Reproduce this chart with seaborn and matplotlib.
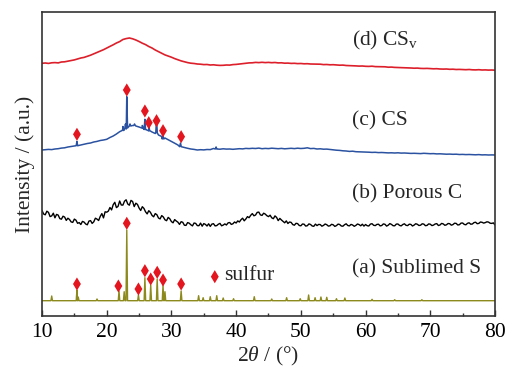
import numpy as np
import pandas as pd
import matplotlib
matplotlib.use("Agg")
import matplotlib.pyplot as plt
import seaborn as sns

# ---------------- data (intensity in arbitrary units) ----------------
two_theta_start, two_theta_stop = 10.0, 80.0
step_coarse, step_fine = 0.5, 0.25

cs_v = [252.7, 253.0, 252.6, 253.2, 253.4, 253.1, 254.0, 254.2, 254.8, 255.5,
        256.1, 257.0, 258.0, 258.6, 259.7, 260.8, 262.2, 263.5, 265.0, 266.3,
        268.0, 269.6, 271.2, 273.0, 274.4, 276.5, 277.4, 278.0, 277.2, 276.0,
        274.5, 272.8, 271.4, 269.5, 268.0, 266.0, 264.4, 262.8, 261.1, 260.0,
        258.8, 257.4, 256.2, 255.1, 254.2, 253.4, 252.8, 252.5, 252.0, 251.8,
        251.4, 251.5, 251.0, 251.2, 250.8, 250.6, 250.7, 251.0, 250.9, 251.4,
        251.6, 252.0, 252.4, 252.7, 253.1, 253.2, 253.6, 253.4, 253.7, 253.4,
        253.6, 253.3, 253.5, 253.1, 253.2, 252.8, 252.9, 252.6, 252.7, 252.4,
        252.5, 252.2, 252.3, 252.0, 251.9, 251.7, 251.8, 251.4, 251.5, 251.2,
        251.3, 251.0, 250.8, 250.9, 250.5, 250.4, 250.2, 250.1, 249.9, 250.0,
        249.7, 249.6, 249.8, 249.4, 249.3, 249.1, 249.2, 248.8, 248.9, 248.6,
        248.5, 248.3, 248.4, 248.1, 248.0, 247.8, 247.9, 247.6, 247.5, 247.6,
        247.4, 247.2, 247.3, 247.0, 246.9, 247.0, 246.7, 246.8, 246.5, 246.6,
        246.4, 246.3, 246.5, 246.2, 246.1, 246.3, 246.0, 246.1, 245.9, 246.0,
        245.8]

cs = [166.0, 166.3, 166.6, 166.4, 167.0, 167.3, 167.9, 168.2, 169.0, 169.5,
      170.0, 170.3, 171.0, 171.8, 172.5, 173.0, 174.0, 174.6, 175.5, 176.0,
      176.7, 178.5, 180.0, 182.0, 184.3, 187.0, 189.0, 190.0, 190.5, 190.0,
      189.0, 187.8, 186.5, 185.0, 184.0, 182.5, 181.0, 179.5, 178.0, 176.3,
      174.5, 172.8, 171.0, 169.8, 168.5, 167.7, 167.0, 166.6, 166.0, 166.3,
      166.1, 166.5, 166.4, 167.5, 167.0, 166.8, 167.2, 166.9, 167.0, 166.7,
      167.0, 167.3, 167.1, 167.6, 167.4, 167.7, 167.5, 167.9, 167.3, 167.6,
      167.4, 167.8, 167.5, 167.3, 167.6, 167.2, 167.5, 167.7, 167.4, 167.8,
      167.5, 167.7, 168.2, 167.4, 167.6, 167.0, 167.2, 166.8, 166.9, 166.5,
      166.0, 165.8, 165.6, 165.2, 165.0, 164.6, 164.8, 164.3, 164.2, 164.0,
      163.9, 163.8, 163.6, 163.7, 163.4, 163.5, 163.3, 163.1, 163.2, 163.0,
      163.2, 162.9, 163.0, 162.8, 162.6, 162.7, 162.5, 162.4, 162.7, 162.5,
      162.3, 162.4, 162.1, 162.2, 162.0, 161.8, 161.9, 161.7, 161.8, 161.5,
      161.6, 161.4, 161.5, 161.3, 161.2, 161.4, 161.1, 161.2, 161.0, 161.1,
      161.0]

# sharp sulfur reflections riding on the CS hump: position, local base, top
cs_peak_pos = [15.4, 22.5, 22.9, 23.1, 23.6, 24.3, 25.5, 25.9, 26.5, 27.7, 28.7, 31.4, 36.9]
cs_peak_base = [170.3, 185.5, 187.0, 188.0, 190.0, 190.5, 188.0, 186.5, 185.5, 183.0, 177.0, 169.3, 167.0]
cs_peak_top = [174.5, 189.5, 192.0, 219.3, 192.0, 192.0, 190.5, 196.7, 192.0, 196.7, 180.0, 173.0, 169.0]

# porous carbon, sampled every 0.25 deg
porous_c = [105.5, 102.0, 101.2, 104.8, 103.6, 99.4, 100.1, 102.8,
            98.2, 101.6, 100.9, 97.4, 96.8, 99.8, 98.9, 95.6,
            97.8, 96.5, 94.1, 93.6, 96.9, 95.8, 92.7, 93.4,
            91.5, 94.6, 93.9, 92.0, 91.2, 94.9, 95.4, 92.6,
            94.2, 97.8, 96.9, 95.5, 99.6, 102.4, 98.1, 104.2,
            103.8, 104.9, 108.5, 106.1, 111.3, 113.7, 108.4, 109.6,
            115.0, 111.0, 110.9, 114.8, 116.2, 112.0, 110.8, 115.6,
            114.5, 109.4, 112.8, 111.6, 108.0, 105.5, 109.3, 107.6,
            104.2, 102.1, 105.3, 103.7, 100.6, 99.2, 102.4, 101.3,
            98.0, 97.1, 100.4, 99.0, 96.2, 95.3, 98.6, 97.2,
            94.4, 93.2, 96.4, 95.0, 93.8, 91.6, 94.3, 93.7,
            90.8, 90.6, 93.4, 92.8, 91.2, 90.1, 93.0, 92.6,
            90.4, 90.3, 92.9, 89.8, 92.4, 91.6, 90.0, 92.2,
            89.6, 91.9, 92.3, 90.1, 90.4, 91.8, 92.6, 90.2,
            90.9, 92.1, 91.0, 93.1, 93.5, 91.6, 92.2, 94.0,
            93.0, 95.1, 94.0, 96.3, 97.8, 95.2, 97.0, 99.4,
            98.3, 100.7, 102.4, 100.2, 101.0, 103.6, 103.9, 101.1,
            100.6, 102.8, 101.9, 100.3, 99.4, 100.8, 98.2, 97.3,
            100.1, 98.6, 95.4, 97.6, 96.0, 94.6, 93.2, 95.1,
            92.5, 94.0, 93.6, 91.4, 90.8, 92.7, 92.4, 90.5,
            90.2, 92.0, 91.8, 89.9, 90.3, 92.1, 91.5, 90.0,
            89.7, 91.9, 90.4, 91.6, 91.4, 89.8, 90.6, 92.0,
            91.3, 89.9, 90.2, 91.7, 91.2, 89.6, 90.4, 91.9,
            91.5, 90.0, 89.8, 91.3, 92.2, 90.5, 90.1, 91.6,
            91.0, 89.7, 90.6, 92.0, 91.4, 90.2, 91.8, 89.9,
            91.5, 90.3, 90.0, 91.9, 92.3, 90.7, 90.4, 91.6,
            91.8, 90.1, 90.5, 92.1, 91.7, 89.9, 90.8, 92.4,
            91.6, 90.3, 90.2, 91.9, 92.0, 90.6, 90.1, 91.5,
            92.2, 90.7, 90.4, 91.8, 91.6, 90.0, 90.9, 92.3,
            91.7, 90.5, 90.8, 92.2, 91.9, 90.3, 90.6, 92.1,
            91.8, 90.4, 90.9, 92.0, 92.4, 90.5, 91.0, 92.6,
            92.1, 90.7, 91.2, 92.5, 92.3, 90.8, 91.4, 92.8,
            92.6, 91.0, 91.3, 92.9, 93.0, 91.6, 91.2, 92.7,
            93.2, 91.8, 92.0, 93.4, 93.8, 92.3, 92.6, 94.0,
            93.7, 92.9, 93.4, 94.2, 93.9, 92.8, 92.6, 93.1,
            91.0]

sublimed_base = 15.3
sublimed_peak_pos = [11.5, 15.4, 15.6, 18.5, 21.9, 22.7, 23.1, 24.9, 25.9, 26.8, 27.8, 28.7, 29.0,
                     31.5, 34.2, 34.9, 36.0, 37.0, 38.0, 39.6, 42.8, 45.5, 47.8, 49.9, 51.2,
                     52.2, 53.1, 54.0, 55.5, 56.8, 61.0, 64.5, 68.7]
sublimed_peak_top = [20.0, 26.0, 19.0, 17.0, 25.0, 24.3, 86.0, 21.0, 38.3, 31.0, 37.0, 30.5, 24.3,
                     25.0, 20.3, 18.3, 19.3, 20.3, 18.0, 17.3, 19.3, 17.0, 18.3, 17.3, 21.0,
                     18.3, 19.0, 18.7, 17.3, 18.0, 16.7, 16.3, 16.3]

# diamond markers (sulfur reflections)
mark_a_x = [15.4, 21.8, 23.1, 24.9, 25.9, 26.8, 27.8, 28.7, 31.5]
mark_a_y = [32.0, 30.0, 92.7, 27.0, 45.3, 37.0, 43.7, 36.0, 32.0]
mark_c_x = [15.4, 23.1, 25.9, 26.5, 27.7, 28.7, 31.5]
mark_c_y = [181.7, 226.0, 205.0, 193.3, 195.3, 185.3, 179.3]

curve_labels = ["(a) Sublimed S", "(b) Porous C", "(c) CS", r"(d) CS$_\mathrm{v}$"]
curve_label_y = [47, 122, 195, 276]
xticks = [10, 20, 30, 40, 50, 60, 70, 80]

# ---------------- build line tables ----------------
x_coarse = np.arange(two_theta_start, two_theta_stop + 1e-9, step_coarse)
x_fine = np.arange(two_theta_start, two_theta_stop + 1e-9, step_fine)
hw = 0.12

def with_peaks(xg, yg, pos, base, top):
    xs = list(xg)
    ys = list(yg)
    for p, b, t in zip(pos, base, top):
        xs += [p - hw, p, p + hw]
        ys += [b, t, b]
    return pd.DataFrame({"x": xs, "y": ys}).sort_values("x", kind="mergesort")

df_d = pd.DataFrame({"x": x_coarse, "y": cs_v})
df_c = with_peaks(x_coarse, cs, cs_peak_pos, cs_peak_base, cs_peak_top)
df_b = pd.DataFrame({"x": x_fine, "y": porous_c})
df_a = with_peaks([two_theta_start, two_theta_stop], [sublimed_base] * 2,
                  sublimed_peak_pos, [sublimed_base] * len(sublimed_peak_pos),
                  sublimed_peak_top)

# ---------------- plot ----------------
sns.set_theme(style="ticks")
plt.rcParams["font.family"] = ["Liberation Serif", "DejaVu Serif"]
plt.rcParams["mathtext.fontset"] = "custom"
plt.rcParams["mathtext.rm"] = "Liberation Serif"
plt.rcParams["mathtext.it"] = "Liberation Serif:italic"

W, H = 506, 369
fig = plt.figure(figsize=(W / 100, H / 100), dpi=100)
ax = fig.add_axes([42 / W, 1 - 316 / H, (495 - 42) / W, (316 - 12) / H])

red = "#dc1f2a"
blue = "#2a52a0"
olive = "#8c8a1c"
mred = "#e3161f"
FS = 15.5

sns.lineplot(data=df_d, x="x", y="y", ax=ax, color=red, lw=1.2, sort=False, estimator=None)
sns.lineplot(data=df_c, x="x", y="y", ax=ax, color=blue, lw=1.1, sort=False, estimator=None)
sns.lineplot(data=df_b, x="x", y="y", ax=ax, color="black", lw=1.0, sort=False, estimator=None)
sns.lineplot(data=df_a, x="x", y="y", ax=ax, color=olive, lw=1.0, sort=False, estimator=None)

for mx, my in [(mark_a_x, mark_a_y), (mark_c_x, mark_c_y), ([36.7], [39.3])]:
    sns.scatterplot(x=mx, y=my, ax=ax, marker="d", s=45, color=mred, edgecolor="none", zorder=5)
ax.text(38.1, 40, "sulfur", fontsize=FS, va="center", ha="left")

for lab, yy in zip(curve_labels, curve_label_y):
    ax.text(57.9, yy, lab, fontsize=FS, va="center", ha="left")

ax.set_xlim(10, 80)
ax.set_ylim(0, 304)
ax.set_xticks(xticks)
ax.set_xticks(np.arange(15, 80, 10), minor=True)
ax.set_yticks([])
ax.tick_params(axis="x", which="major", direction="in", length=4, width=1, labelsize=FS,
               pad=5, colors="#333333", labelcolor="black")
ax.tick_params(axis="x", which="minor", direction="in", length=2.5, width=1, colors="#333333")
for s in ax.spines.values():
    s.set_visible(True)
    s.set_linewidth(1.2)
    s.set_color("#333333")

ax.set_xlabel(r"2$\mathit{\theta}$ / (°)", fontsize=FS, labelpad=2)
ax.set_ylabel("Intensity / (a.u.)", fontsize=FS, labelpad=5)

fig.savefig("out.png", dpi=100)
